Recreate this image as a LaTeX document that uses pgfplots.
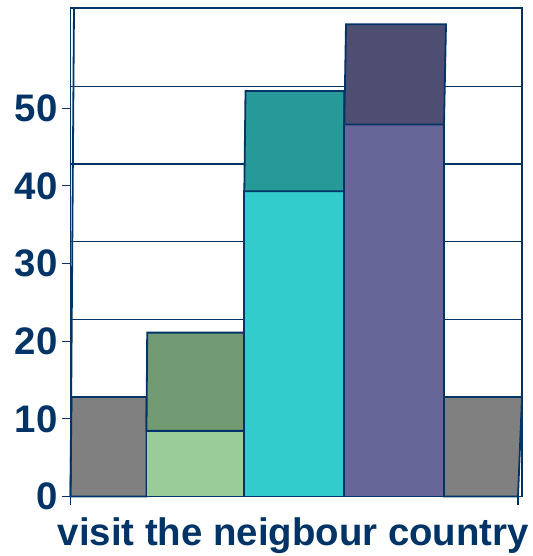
\documentclass[border=0pt]{standalone}
\usepackage{fontspec}
\setmainfont{Liberation Sans}
\usepackage{pgfplots}
\pgfplotsset{compat=1.18}
\definecolor{navy}{RGB}{0,51,102}
\definecolor{cgray}{RGB}{128,128,128}
\definecolor{lgreen}{RGB}{153,204,153}
\definecolor{dgreen}{RGB}{115,155,115}
\definecolor{ccyan}{RGB}{51,204,204}
\definecolor{cteal}{RGB}{38,153,153}
\definecolor{cpurple}{RGB}{102,102,153}
\definecolor{dpurple}{RGB}{78,78,115}
\begin{document}
\begin{tikzpicture}
\path[use as bounding box] (-70.5bp,-59.5bp) rectangle (462.5bp,496.5bp);
\begin{axis}[
  at={(0,0)}, anchor=south west,
  scale only axis,
  width=451.5bp, height=488.5bp,
  xmin=70.5, xmax=522, ymin=0, ymax=62.9,
  axis line style={navy, line width=1.8bp},
  ytick={0,10,20,30,40,50},
  ytick pos=left,
  xtick={70.5,518}, xticklabels={},
  xtick pos=bottom,
  tick align=outside,
  major tick length=8.5bp,
  tick style={navy, line width=1.3bp},
  yticklabel style={font=\fontsize{38.5}{38.5}\selectfont\bfseries, text=navy, xshift=-1bp},
  /pgf/number format/assume math mode=true,
  extra y ticks={12.8,22.8,32.8,42.8,52.8},
  extra y tick labels={},
  extra y tick style={grid=major, major tick length=0pt},
  grid style={navy, line width=1.4bp},
  xlabel={visit the neigbour country},
  xlabel style={at={(axis description cs:0.5,0)}, anchor=base, yshift=-48.5bp, xshift=-3bp,
    font=\fontsize{38.5}{38.5}\selectfont\bfseries, text=navy},
  clip=false,
  every axis plot/.append style={draw=navy, line width=1.8bp},
]
\addplot[fill=cgray] coordinates {(70.5,0) (146.5,0) (146.5,12.8) (71.5,12.8)} -- cycle;
\addplot[fill=lgreen] coordinates {(146.5,0) (244.3,0) (244.3,8.47) (146.5,8.47)} -- cycle;
\addplot[fill=dgreen] coordinates {(146.5,8.47) (244.3,8.47) (244.3,21.1) (147.2,21.1)} -- cycle;
\addplot[fill=ccyan] coordinates {(244.3,0) (344.3,0) (344.3,39.3) (244.3,39.3)} -- cycle;
\addplot[fill=cteal] coordinates {(244.3,39.3) (344.3,39.3) (344.3,52.2) (245.5,52.2)} -- cycle;
\addplot[fill=cpurple] coordinates {(344.3,0) (444,0) (444,47.9) (344.3,47.9)} -- cycle;
\addplot[fill=dpurple] coordinates {(344.3,47.9) (444,47.9) (446,60.8) (346,60.8)} -- cycle;
\addplot[fill=cgray] coordinates {(444,0) (518,0) (522,12.8) (444,12.8)} -- cycle;
\draw[navy, line width=1.8bp] (axis cs:70.5,0) -- (axis cs:74,62.9);
\end{axis}
\end{tikzpicture}
\end{document}
